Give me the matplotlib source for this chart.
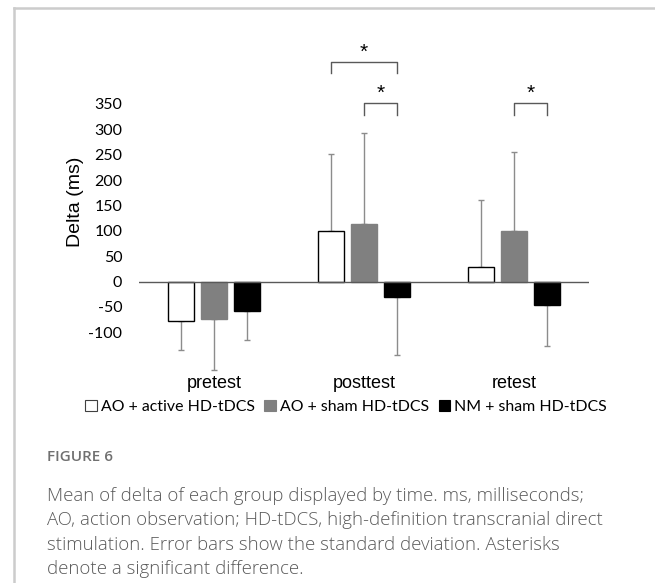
import matplotlib
matplotlib.use("Agg")
import matplotlib.pyplot as plt
from matplotlib.patches import Patch
from matplotlib.lines import Line2D
import numpy as np

# data
times = ["pretest", "posttest", "retest"]
groups = ["AO + active HD-tDCS", "AO + sham HD-tDCS", "NM + sham HD-tDCS"]
ao_active = [-77, 99, 28]
ao_sham = [-73, 114, 99]
nm_sham = [-58, -30, -46]
sd_ao_active = [58, 152, 132]
sd_ao_sham = [102, 179, 157]
sd_nm_sham = [57, 114, 81]
yticks = [-100, -50, 0, 50, 100, 150, 200, 250, 300, 350]

# significance brackets: (time index, group a, group b, level)
brackets = [(1, 0, 2, 433), (1, 1, 2, 351), (2, 1, 2, 351)]

W, H = 655, 583
fig = plt.figure(figsize=(W / 100, H / 100), dpi=100)

def fx(px):
    return px / W

def fy(py):
    return 1 - py / H

ax = fig.add_axes([fx(139), fy(375), fx(589) - fx(139), fy(40) - fy(375)])

x = np.arange(len(times))
width = 0.173
step = 0.222
colors = ["white", "#808080", "black"]
edges = ["black", "#808080", "black"]
means = [ao_active, ao_sham, nm_sham]
sds = [sd_ao_active, sd_ao_sham, sd_nm_sham]

for i in range(3):
    pos = x + (i - 1) * step
    m = np.array(means[i])
    s = np.array(sds[i])
    lower = np.where(m < 0, s, 0)
    upper = np.where(m >= 0, s, 0)
    ax.bar(pos, m, width, color=colors[i], edgecolor=edges[i], linewidth=1, zorder=3)
    ax.errorbar(pos, m, yerr=[lower, upper], fmt="none", ecolor="#8c8c8c",
                elinewidth=1, capsize=2.5, capthick=1, zorder=2)

ax.axhline(0, color="#595959", linewidth=1, zorder=4)

for t, a, b, lvl in brackets:
    xa = t + (a - 1) * step
    xb = t + (b - 1) * step
    ax.plot([xa, xa, xb, xb], [lvl - 22, lvl, lvl, lvl - 22], color="#595959",
            linewidth=1, clip_on=False)
    ax.text((xa + xb) / 2, lvl + 19, "*", ha="center", va="center",
            fontsize=15, family="Liberation Sans")

ax.set_xlim(-0.5, 2.5)
ax.set_ylim(-184, 476)
ax.set_yticks(yticks)
ax.set_yticklabels([str(v) for v in yticks], family="Lato", fontsize=11.5)
ax.set_xticks([])
ax.tick_params(axis="y", length=0, pad=12)
for sp in ax.spines.values():
    sp.set_visible(False)

fig.text(fx(75), fy(202), "Delta (ms)", rotation=90, ha="center", va="center",
         family="Liberation Sans", fontsize=14)

for t, name in zip(x, times):
    xp = 139 + (t + 0.5) * 150
    fig.text(fx(xp), fy(383), name, ha="center", va="center",
             family="Liberation Sans", fontsize=13)

handles = [Patch(facecolor=c, edgecolor=e, linewidth=0.8) for c, e in zip(colors, ["#404040", "#808080", "black"])]
fig.legend(handles, groups, loc="center", bbox_to_anchor=(fx(346), fy(407)), ncol=3,
           frameon=False, handlelength=0.75, handleheight=0.75, handletextpad=0.25,
           columnspacing=0.6, prop={"family": "Lato", "size": 11.4})

# caption
fig.text(fx(47), fy(457), "FIGURE 6", ha="left", va="center", color="#707070",
         family="Open Sans", fontsize=11, fontweight="semibold")
caption = ["Mean of delta of each group displayed by time. ms, milliseconds;",
           "AO, action observation; HD-tDCS, high-definition transcranial direct",
           "stimulation. Error bars show the standard deviation. Asterisks",
           "denote a significant difference."]
for k, line in enumerate(caption):
    fig.text(fx(47), fy(496 + 24.3 * k), line, ha="left", va="center", color="#5a5a5a",
             family="Open Sans", fontsize=13.4, fontweight="light")

# frame around the panel
fig.add_artist(Line2D([fx(14), fx(14)], [fy(8), 0], color="#cccccc", linewidth=1.8))
fig.add_artist(Line2D([fx(14), 1], [fy(8), fy(8)], color="#cccccc", linewidth=1.8))

fig.savefig("out.png", dpi=100)
